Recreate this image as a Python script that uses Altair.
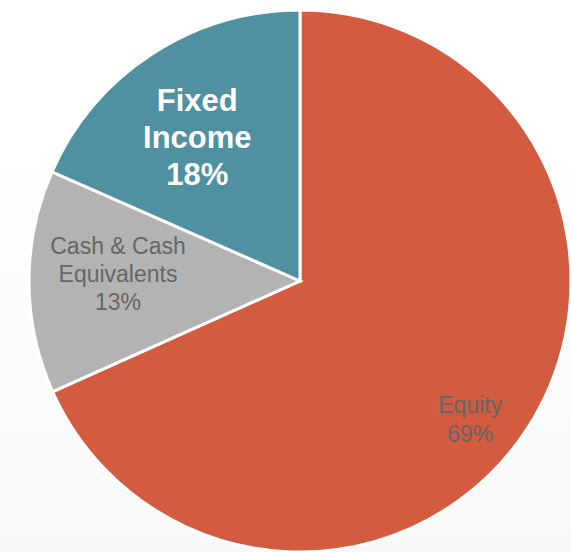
import altair as alt
import pandas as pd

categories = ["Equity", "Cash & Cash Equivalents", "Fixed Income"]
shares = [68.3, 13.3, 18.4]
label_lines = [["Equity", "69%"], ["Cash & Cash", "Equivalents", "13%"], ["Fixed", "Income", "18%"]]
colors = ["#D35B3F", "#B3B3B3", "#4F91A0"]

df = pd.DataFrame({
    "category": categories,
    "share": shares,
    "label": ["\n".join(l) for l in label_lines],
})

W = 542
FONT = "Liberation Sans, Arial, sans-serif"

bg = alt.Chart(alt.Data(values=[{}])).mark_rect(
    fill=alt.LinearGradient(
        gradient="linear",
        stops=[alt.GradientStop(color="#ffffff", offset=0),
               alt.GradientStop(color="#ffffff", offset=0.25),
               alt.GradientStop(color="#f8f8f8", offset=1)],
        x1=0, x2=0, y1=0, y2=1),
).encode(x=alt.value(-29), x2=alt.value(W), y=alt.value(-10), y2=alt.value(W))

base = alt.Chart(df).transform_window(idx="row_number()")

theta = alt.Theta("share:Q", stack=True)
order = alt.Order("idx:Q")

pie = base.mark_arc(stroke="white", strokeWidth=3).encode(
    theta=theta,
    order=order,
    color=alt.Color("category:N", scale=alt.Scale(domain=categories, range=colors), legend=None),
)

def label(cat, r, dx, dy, size, color, weight, lh):
    return base.mark_text(
        radius=r, dx=dx, dy=dy, fontSize=size, font=FONT, color=color,
        fontWeight=weight, lineBreak="\n", lineHeight=lh, align="center", baseline="middle",
    ).encode(
        theta=theta, order=order,
        text=alt.condition(alt.datum.category == cat, alt.Text("label:N"), alt.value("")),
    )

t_eq = label("Equity", 210, -6, 11, 23, "#666666", "normal", 29)
t_cash = label("Cash & Cash Equivalents", 182, 0, -35, 23, "#666666", "normal", 28)
t_fix = label("Fixed Income", 177, -6, -31, 31, "white", "bold", 37)

chart = alt.layer(bg, pie, t_eq, t_cash, t_fix).properties(
    width=W, height=W,
    padding={"left": 29, "top": 10, "right": 0, "bottom": 0},
    autosize=alt.AutoSizeParams(type="none"),
).configure_view(stroke=None)

chart.save("out.html", embed_options={"renderer": "svg", "actions": False})
